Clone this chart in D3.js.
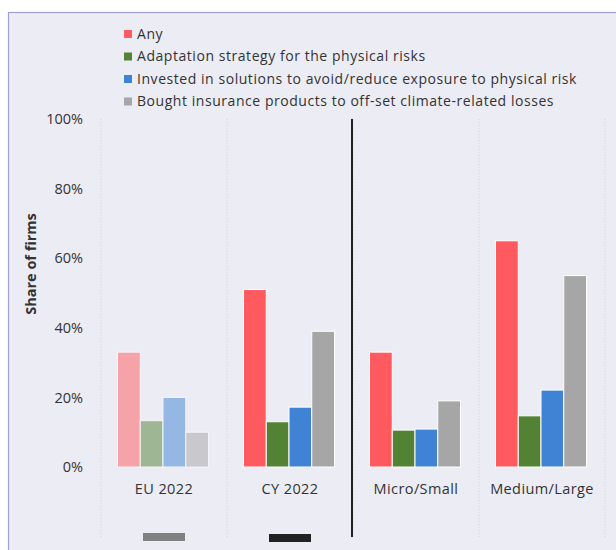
<!DOCTYPE html>
<html>
<head>
<meta charset="utf-8">
<script src="https://cdn.jsdelivr.net/npm/d3@7"></script>
<style>
  html, body { margin: 0; padding: 0; background: #ffffff; }
  svg { display: block; }
  text { font-family: "Open Sans", "Noto Sans", sans-serif; fill: #333333; }
</style>
</head>
<body>
<svg id="chart" width="616" height="550"></svg>
<script>
// Categories: two country groups and two firm-size groups
const categories = ["EU 2022", "CY 2022", "Micro/Small", "Medium/Large"];
const seriesNames = [
  "Any",
  "Adaptation strategy for the physical risks",
  "Invested in solutions to avoid/reduce exposure to physical risk",
  "Bought insurance products to off-set climate-related losses"
];
// Share of firms (%) for each series across the categories
const anyValues        = [33, 51, 33, 65];
const adaptationValues = [13.3, 13, 10.6, 14.7];
const investedValues   = [20, 17.2, 10.9, 22.1];
const insuranceValues  = [10, 39, 19, 55];
const yTicks = [0, 20, 40, 60, 80, 100];
const seriesColors = ["#FF5A5F", "#548235", "#4083D4", "#A6A6A6"];
const fadedCategory = "EU 2022";
const markerCategories = ["EU 2022", "CY 2022"];
const markerColors = ["#808080", "#222222"];

const seriesValues = [anyValues, adaptationValues, investedValues, insuranceValues];
const rows = categories.map((c, i) => ({
  category: c,
  values: seriesNames.map((s, j) => ({ series: s, idx: j, value: seriesValues[j][i] }))
}));

const svg = d3.select("#chart");

// Panel background with border on the top and left
svg.append("rect").attr("x", 8.5).attr("y", 12.5).attr("width", 620).attr("height", 560)
  .attr("fill", "#ECECF5").attr("stroke", "#9E9ED6").attr("stroke-width", 1.2);

const x0 = d3.scaleBand().domain(categories).range([101, 605]).padding(0);
const x1 = d3.scaleBand().domain(seriesNames).range([16.5, 107.5]).padding(0);
const y = d3.scaleLinear().domain([0, 100]).range([467, 119]);

// Dotted separators between categories
const bounds = categories.map(c => x0(c)).concat([x0.range()[1]]);
svg.append("g").selectAll("line").data(bounds).join("line")
  .attr("x1", d => d).attr("x2", d => d)
  .attr("y1", y(100)).attr("y2", 537)
  .attr("stroke", "#D2D2DC").attr("stroke-width", 1)
  .attr("stroke-dasharray", "1,2");

// Y axis labels
const yAxis = d3.axisLeft(y).tickValues(yTicks).tickFormat(d => d + "%").tickSize(0).tickPadding(0);
const yg = svg.append("g").attr("transform", "translate(83,0)").call(yAxis);
yg.select(".domain").remove();
yg.selectAll("text").attr("font-size", 14.5).attr("fill", "#3a3a3a")
  .style("font-family", "'Open Sans', sans-serif");

// Y axis title
svg.append("text")
  .attr("transform", "translate(36,264) rotate(-90)")
  .attr("text-anchor", "middle")
  .attr("font-size", 14.5).attr("font-weight", "bold").attr("fill", "#222")
  .text("Share of firms");

// Bars
const groups = svg.append("g").selectAll("g").data(rows).join("g")
  .attr("transform", d => "translate(" + x0(d.category) + ",0)")
  .attr("opacity", d => d.category === fadedCategory ? 0.5 : 1);
groups.selectAll("rect").data(d => d.values).join("rect")
  .attr("x", d => x1(d.series))
  .attr("y", d => y(d.value))
  .attr("width", x1.bandwidth())
  .attr("height", d => y(0) - y(d.value))
  .attr("fill", d => seriesColors[d.idx])
  .attr("stroke", "#ffffff").attr("stroke-width", 1);

// Category labels
const xAxis = d3.axisBottom(x0).tickSize(0).tickPadding(0);
const xg = svg.append("g").attr("transform", "translate(0,484)").call(xAxis);
xg.select(".domain").remove();
xg.selectAll("text").attr("font-size", 14.5).attr("fill", "#3a3a3a").attr("dy", "0.71em")
  .attr("letter-spacing", "0.4px")
  .style("font-family", "'Open Sans', sans-serif");

// Solid divider between country and firm-size groups
svg.append("line")
  .attr("x1", x0("Micro/Small") - 1).attr("x2", x0("Micro/Small") - 1)
  .attr("y1", y(100)).attr("y2", 537)
  .attr("stroke", "#222").attr("stroke-width", 2);

// Marker swatches below the country groups
svg.append("g").selectAll("rect").data(markerCategories).join("rect")
  .attr("x", d => x0(d) + x0.bandwidth() / 2 - 21)
  .attr("y", (d, i) => 533 + i)
  .attr("width", 42).attr("height", 8)
  .attr("fill", (d, i) => markerColors[i]);

// Legend
const legend = svg.append("g").attr("transform", "translate(124,34)");
const li = legend.selectAll("g").data(seriesNames).join("g")
  .attr("transform", (d, i) => "translate(0," + (i * 22.5) + ")");
li.append("rect").attr("x", 0).attr("y", -4).attr("width", 8).attr("height", 8)
  .attr("fill", (d, i) => seriesColors[i]);
li.append("text").attr("x", 13).attr("y", 0).attr("dy", "0.35em")
  .attr("font-size", 14).attr("letter-spacing", "0.55px")
  .attr("fill", "#333").text(d => d);
</script>
</body>
</html>
